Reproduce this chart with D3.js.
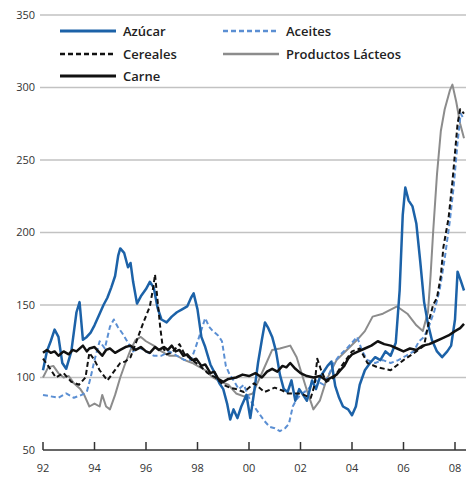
<!DOCTYPE html>
<html>
<head>
<meta charset="utf-8">
<script src="https://cdn.jsdelivr.net/npm/d3@7"></script>
<style>
  body { margin: 0; background: #fff; }
  text { font-family: "Open Sans", "DejaVu Sans", sans-serif; }
</style>
</head>
<body>
<script>
const width = 466;
const height = 479;

// [year, index value]
const azucar = [
  [1992.0, 105], [1992.15, 118], [1992.3, 125], [1992.45, 133], [1992.6, 128], [1992.75, 110],
  [1992.9, 106], [1993.1, 118], [1993.3, 145], [1993.42, 152], [1993.55, 126], [1993.7, 128],
  [1993.85, 131], [1994.0, 136], [1994.2, 144], [1994.35, 150], [1994.5, 155], [1994.65, 162],
  [1994.8, 170], [1994.92, 184], [1995.0, 189], [1995.15, 186], [1995.3, 176], [1995.4, 179],
  [1995.5, 166], [1995.65, 151], [1995.8, 156], [1996.0, 161], [1996.15, 166], [1996.3, 162],
  [1996.45, 148], [1996.6, 140], [1996.8, 138], [1997.0, 142], [1997.2, 145], [1997.4, 147],
  [1997.6, 149], [1997.75, 155], [1997.85, 158], [1998.0, 147], [1998.15, 128], [1998.3, 121],
  [1998.5, 109], [1998.7, 102], [1998.85, 96], [1999.0, 92], [1999.15, 82], [1999.27, 71],
  [1999.4, 78], [1999.55, 72], [1999.7, 80], [1999.9, 88], [2000.05, 72], [2000.2, 90],
  [2000.35, 110], [2000.5, 126], [2000.62, 138], [2000.75, 134], [2000.9, 128], [2001.05, 118],
  [2001.2, 102], [2001.35, 92], [2001.5, 90], [2001.65, 98], [2001.8, 84], [2001.95, 92],
  [2002.1, 88], [2002.25, 84], [2002.45, 98], [2002.6, 92], [2002.75, 100], [2002.9, 104],
  [2003.05, 108], [2003.2, 111], [2003.35, 94], [2003.5, 86], [2003.65, 80], [2003.85, 78],
  [2004.0, 74], [2004.15, 80], [2004.3, 95], [2004.5, 105], [2004.7, 110], [2004.9, 114],
  [2005.1, 112], [2005.3, 118], [2005.5, 115], [2005.7, 124], [2005.85, 160], [2005.97, 212],
  [2006.07, 231], [2006.2, 222], [2006.35, 218], [2006.5, 206], [2006.65, 180], [2006.8, 152],
  [2006.95, 137], [2007.1, 126], [2007.3, 118], [2007.5, 114], [2007.7, 118], [2007.85, 122],
  [2008.0, 140], [2008.1, 173], [2008.22, 167], [2008.35, 160]
];

const aceites = [
  [1992.0, 88], [1992.3, 87], [1992.6, 86], [1992.9, 89], [1993.2, 86], [1993.5, 88],
  [1993.7, 90], [1993.85, 100], [1994.0, 112], [1994.2, 125], [1994.4, 120], [1994.6, 135],
  [1994.75, 140], [1994.9, 135], [1995.1, 130], [1995.3, 124], [1995.5, 118], [1995.7, 121],
  [1996.0, 118], [1996.3, 115], [1996.6, 115], [1996.9, 118], [1997.2, 115], [1997.5, 112],
  [1997.75, 112], [1997.95, 122], [1998.1, 130], [1998.3, 141], [1998.45, 135], [1998.6, 132],
  [1998.8, 129], [1998.95, 125], [1999.1, 108], [1999.25, 102], [1999.4, 98], [1999.6, 92],
  [1999.8, 95], [2000.0, 86], [2000.2, 80], [2000.4, 75], [2000.6, 70], [2000.8, 66],
  [2001.0, 65], [2001.2, 63], [2001.4, 65], [2001.55, 68], [2001.7, 80], [2001.85, 85],
  [2002.0, 88], [2002.3, 92], [2002.6, 98], [2002.9, 95], [2003.1, 102], [2003.3, 110],
  [2003.5, 115], [2003.8, 120], [2004.0, 124], [2004.2, 128], [2004.4, 118], [2004.6, 112],
  [2004.9, 110], [2005.2, 112], [2005.5, 110], [2005.8, 112], [2006.1, 115], [2006.4, 118],
  [2006.6, 125], [2006.8, 128], [2007.0, 136], [2007.2, 146], [2007.4, 160], [2007.6, 182],
  [2007.8, 208], [2007.95, 232], [2008.1, 262], [2008.22, 282], [2008.35, 278]
];

const cereales = [
  [1992.0, 113], [1992.2, 108], [1992.5, 100], [1992.8, 103], [1993.1, 97], [1993.4, 95],
  [1993.65, 100], [1993.8, 117], [1994.0, 112], [1994.2, 105], [1994.5, 98], [1994.75, 104],
  [1995.0, 110], [1995.2, 111], [1995.4, 114], [1995.65, 126], [1995.9, 138], [1996.15, 149],
  [1996.28, 162], [1996.35, 171], [1996.45, 153], [1996.55, 135], [1996.65, 121], [1996.8, 116],
  [1997.0, 117], [1997.3, 123], [1997.5, 116], [1997.8, 112], [1998.1, 108], [1998.4, 103],
  [1998.7, 100], [1999.0, 95], [1999.25, 93], [1999.5, 92], [1999.8, 90], [2000.2, 96],
  [2000.6, 90], [2001.0, 93], [2001.3, 91], [2001.5, 89], [2002.0, 89], [2002.4, 86],
  [2002.55, 95], [2002.65, 113], [2002.8, 105], [2003.0, 97], [2003.3, 100], [2003.6, 108],
  [2004.0, 118], [2004.3, 120], [2004.6, 110], [2005.0, 107], [2005.5, 105], [2006.0, 112],
  [2006.5, 118], [2006.8, 122], [2007.0, 140], [2007.15, 150], [2007.3, 155], [2007.45, 170],
  [2007.55, 190], [2007.75, 210], [2007.9, 235], [2008.0, 255], [2008.1, 275], [2008.2, 285],
  [2008.35, 282]
];

const lacteos = [
  [1992.0, 100], [1992.2, 107], [1992.4, 108], [1992.6, 103], [1992.8, 100], [1993.0, 101],
  [1993.2, 96], [1993.45, 92], [1993.6, 88], [1993.8, 80], [1994.0, 82], [1994.2, 80],
  [1994.3, 88], [1994.45, 80], [1994.6, 78], [1994.8, 88], [1995.0, 100], [1995.2, 110],
  [1995.4, 119], [1995.6, 126], [1995.8, 128], [1996.0, 125], [1996.3, 122], [1996.6, 118],
  [1996.9, 115], [1997.2, 115], [1997.5, 112], [1997.8, 110], [1998.0, 108], [1998.3, 105],
  [1998.6, 100], [1998.9, 97], [1999.2, 95], [1999.5, 89], [1999.8, 87], [2000.15, 89],
  [2000.55, 105], [2000.9, 119], [2001.2, 120], [2001.6, 122], [2001.85, 114], [2002.25, 91],
  [2002.5, 78], [2002.75, 84], [2003.0, 98], [2003.4, 112], [2003.8, 119], [2004.2, 126],
  [2004.5, 132], [2004.8, 142], [2005.2, 144], [2005.75, 149], [2006.15, 144], [2006.5, 136],
  [2006.75, 132], [2006.95, 145], [2007.05, 170], [2007.15, 200], [2007.3, 240], [2007.45, 270],
  [2007.6, 285], [2007.8, 298], [2007.9, 302], [2008.05, 290], [2008.2, 275], [2008.35, 265]
];

const carne = [
  [1992.0, 117], [1992.15, 119], [1992.3, 117], [1992.45, 118], [1992.6, 115], [1992.8, 118],
  [1993.0, 116], [1993.15, 119], [1993.3, 118], [1993.55, 122], [1993.7, 118], [1993.8, 120],
  [1994.0, 121], [1994.15, 118], [1994.3, 115], [1994.45, 119], [1994.6, 120], [1994.8, 117],
  [1995.0, 119], [1995.2, 121], [1995.4, 122], [1995.6, 119], [1995.8, 121], [1996.0, 118],
  [1996.15, 117], [1996.35, 121], [1996.5, 119], [1996.7, 121], [1996.85, 119], [1997.0, 122],
  [1997.15, 118], [1997.3, 119], [1997.45, 115], [1997.6, 116], [1997.8, 112], [1997.95, 113],
  [1998.15, 108], [1998.3, 109], [1998.5, 103], [1998.65, 104], [1998.8, 99], [1999.0, 97],
  [1999.2, 99], [1999.5, 100], [1999.75, 102], [2000.0, 101], [2000.25, 103], [2000.5, 100],
  [2000.7, 104], [2000.9, 106], [2001.1, 104], [2001.3, 108], [2001.45, 107], [2001.6, 110],
  [2001.8, 106], [2002.0, 103], [2002.25, 101], [2002.5, 100], [2002.75, 101], [2003.0, 98],
  [2003.2, 100], [2003.4, 102], [2003.55, 105], [2003.7, 108], [2003.85, 113], [2004.0, 116],
  [2004.25, 118], [2004.5, 120], [2004.75, 122], [2005.0, 125], [2005.25, 123], [2005.5, 122],
  [2005.75, 120], [2006.0, 118], [2006.25, 120], [2006.5, 119], [2006.75, 122], [2007.0, 123],
  [2007.25, 125], [2007.5, 127], [2007.75, 129], [2008.0, 132], [2008.2, 134], [2008.35, 137]
];

const yTicks = [50, 100, 150, 200, 250, 300, 350];
const xTicks = [1992, 1994, 1996, 1998, 2000, 2002, 2004, 2006, 2008];

const series = [
  { name: "Azúcar", data: azucar, color: "#1c62a8", width: 2.5, dash: null },
  { name: "Aceites", data: aceites, color: "#5b8fd3", width: 2, dash: "5,3" },
  { name: "Cereales", data: cereales, color: "#111", width: 2, dash: "5,3" },
  { name: "Productos Lácteos", data: lacteos, color: "#8c8c8c", width: 2, dash: null },
  { name: "Carne", data: carne, color: "#111", width: 2.5, dash: null }
];

const x = d3.scaleLinear().domain([1992, 2008]).range([43, 455]);
const y = d3.scaleLinear().domain([50, 350]).range([450, 15]);

const svg = d3.select("body").append("svg").attr("width", width).attr("height", height);

// gridlines
svg.append("g")
  .selectAll("line")
  .data(yTicks.filter((d) => d > 50))
  .enter()
  .append("line")
  .attr("x1", 40)
  .attr("x2", width)
  .attr("y1", (d) => y(d))
  .attr("y2", (d) => y(d))
  .attr("stroke", "#c2c2c2")
  .attr("stroke-width", 1.3);

// y labels
svg.append("g")
  .selectAll("text")
  .data(yTicks)
  .enter()
  .append("text")
  .attr("x", 35)
  .attr("y", (d) => y(d))
  .attr("dy", "0.35em")
  .attr("text-anchor", "end")
  .attr("font-size", 11)
  .attr("fill", "#333")
  .text((d) => d);

// lines, drawn back to front
const line = d3.line().x((d) => x(d[0])).y((d) => y(d[1]));
const order = [3, 1, 0, 2, 4];
svg.append("g")
  .selectAll("path")
  .data(order.map((i) => series[i]))
  .enter()
  .append("path")
  .attr("d", (d) => line(d.data))
  .attr("fill", "none")
  .attr("stroke", (d) => d.color)
  .attr("stroke-width", (d) => d.width)
  .attr("stroke-dasharray", (d) => d.dash)
  .attr("stroke-linejoin", "round");

// x axis
const xAxis = svg.append("g").attr("transform", `translate(0,${y(50)})`);
xAxis.append("line")
  .attr("x1", 43)
  .attr("x2", width)
  .attr("stroke", "#333")
  .attr("stroke-width", 1.5);
xAxis.selectAll(".tick")
  .data(xTicks)
  .enter()
  .append("line")
  .attr("class", "tick")
  .attr("x1", (d) => x(d))
  .attr("x2", (d) => x(d))
  .attr("y1", 0)
  .attr("y2", -8)
  .attr("stroke", "#333")
  .attr("stroke-width", 1.5);
xAxis.selectAll(".lbl")
  .data(xTicks)
  .enter()
  .append("text")
  .attr("class", "lbl")
  .attr("x", (d) => x(d))
  .attr("y", 22)
  .attr("text-anchor", "middle")
  .attr("font-size", 11)
  .attr("fill", "#333")
  .text((d) => String(d).slice(2));

// legend
const legendPos = [
  { s: 0, x: 60, y: 31 }, { s: 1, x: 223, y: 31 },
  { s: 2, x: 60, y: 54 }, { s: 3, x: 223, y: 54 },
  { s: 4, x: 60, y: 76 }
];
const legend = svg.append("g")
  .selectAll("g")
  .data(legendPos)
  .enter()
  .append("g")
  .attr("transform", (d) => `translate(${d.x},${d.y})`);
legend.append("line")
  .attr("x1", 0)
  .attr("x2", 56)
  .attr("stroke", (d) => series[d.s].color)
  .attr("stroke-width", (d) => series[d.s].width + 0.4)
  .attr("stroke-dasharray", (d) => series[d.s].dash);
legend.append("text")
  .attr("x", 63)
  .attr("dy", "0.35em")
  .attr("font-size", 13)
  .attr("font-weight", 600)
  .attr("fill", "#222")
  .text((d) => series[d.s].name);
</script>
</body>
</html>
